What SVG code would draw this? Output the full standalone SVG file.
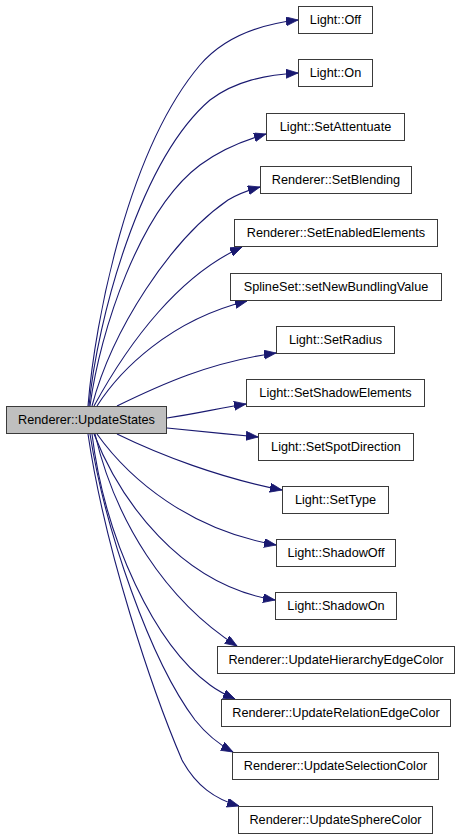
<svg xmlns="http://www.w3.org/2000/svg" width="461" height="840" viewBox="0 0 461 840">
<style>
.n rect{fill:#ffffff;stroke:#3a3a3a;stroke-width:1}
.src rect{fill:#bfbfbf}
.n text{font-family:"Liberation Sans",Arial,sans-serif;font-size:12.7px;text-anchor:middle;fill:#000}
.e path{fill:none;stroke:#191970;stroke-width:1.1;marker-end:url(#ah)}
</style>
<defs>
<marker id="ah" markerUnits="userSpaceOnUse" markerWidth="13" markerHeight="10" refX="12" refY="4.5" orient="auto">
<path d="M0,0 L12,4.5 L0,9 z" fill="#191970" stroke="#191970" stroke-width="0.8"/>
</marker>
</defs>
<rect width="461" height="840" fill="#ffffff"/>
<g id="edges" class="e">
<path d="M88,406 C95,320 128,150 200,65 C225,36 262,24 298,20"/>
<path d="M89,406 C97,320 140,160 210,100 C235,81 265,75 298,73"/>
<path d="M90,406 C100,330 140,210 200,165 C220,150 245,140 266,134"/>
<path d="M92,406 C112,330 170,240 228,200 C238,194 249,190 260,187"/>
<path d="M94,406 C130,340 180,275 242,247"/>
<path d="M97,406 C120,370 170,320 247,301"/>
<path d="M117,406 C160,385 210,362 276,353"/>
<path d="M167,418 C195,414 220,408 246,404"/>
<path d="M167,428 C195,431 228,434 258,437"/>
<path d="M117,434 C160,455 220,478 282,490"/>
<path d="M97,434 C130,480 190,530 276,545"/>
<path d="M94,434 C120,500 180,585 275,600"/>
<path d="M95,434 C115,520 165,600 237,646"/>
<path d="M92,434 C105,540 155,645 210,685 C218,691 226,695 235,699"/>
<path d="M90,434 C105,530 150,660 195,720 C207,735 220,745 233,752"/>
<path d="M88,434 C105,550 152,690 182,760 C196,786 215,799 239,806"/>
</g>
<g id="n_off" class="n"><rect x="298.5" y="6.5" width="74" height="27"/><text x="335.5" y="24">Light::Off</text></g>
<g id="n_on" class="n"><rect x="298.5" y="59.5" width="74" height="27"/><text x="335.5" y="77">Light::On</text></g>
<g id="n_setattentuate" class="n"><rect x="266.5" y="113.5" width="138" height="27"/><text x="335.5" y="131">Light::SetAttentuate</text></g>
<g id="n_setblending" class="n"><rect x="260.5" y="166.5" width="151" height="27"/><text x="336" y="184">Renderer::SetBlending</text></g>
<g id="n_setenabledelements" class="n"><rect x="234.5" y="219.5" width="203" height="27"/><text x="336" y="237">Renderer::SetEnabledElements</text></g>
<g id="n_setnewbundlingvalue" class="n"><rect x="230.5" y="273.5" width="211" height="27"/><text x="336" y="291">SplineSet::setNewBundlingValue</text></g>
<g id="n_setradius" class="n"><rect x="276.5" y="326.5" width="118" height="27"/><text x="335.5" y="344">Light::SetRadius</text></g>
<g id="n_setshadowelements" class="n"><rect x="246.5" y="379.5" width="178" height="27"/><text x="335.5" y="397">Light::SetShadowElements</text></g>
<g id="n_updatestates" class="n src"><rect x="6.5" y="406.5" width="160" height="27"/><text x="86.5" y="424">Renderer::UpdateStates</text></g>
<g id="n_setspotdirection" class="n"><rect x="258.5" y="433.5" width="155" height="27"/><text x="336" y="451">Light::SetSpotDirection</text></g>
<g id="n_settype" class="n"><rect x="282.5" y="486.5" width="106" height="27"/><text x="335.5" y="504">Light::SetType</text></g>
<g id="n_shadowoff" class="n"><rect x="276.5" y="539.5" width="119" height="27"/><text x="336" y="557">Light::ShadowOff</text></g>
<g id="n_shadowon" class="n"><rect x="275.5" y="592.5" width="121" height="27"/><text x="336" y="610">Light::ShadowOn</text></g>
<g id="n_updatehierarchyedgecolor" class="n"><rect x="217.5" y="646.5" width="237" height="27"/><text x="336" y="664">Renderer::UpdateHierarchyEdgeColor</text></g>
<g id="n_updaterelationedgecolor" class="n"><rect x="221.5" y="699.5" width="229" height="27"/><text x="336" y="717">Renderer::UpdateRelationEdgeColor</text></g>
<g id="n_updateselectioncolor" class="n"><rect x="232.5" y="752.5" width="206" height="27"/><text x="335.5" y="770">Renderer::UpdateSelectionColor</text></g>
<g id="n_updatespherecolor" class="n"><rect x="238.5" y="806.5" width="194" height="27"/><text x="335.5" y="824">Renderer::UpdateSphereColor</text></g>
</svg>
